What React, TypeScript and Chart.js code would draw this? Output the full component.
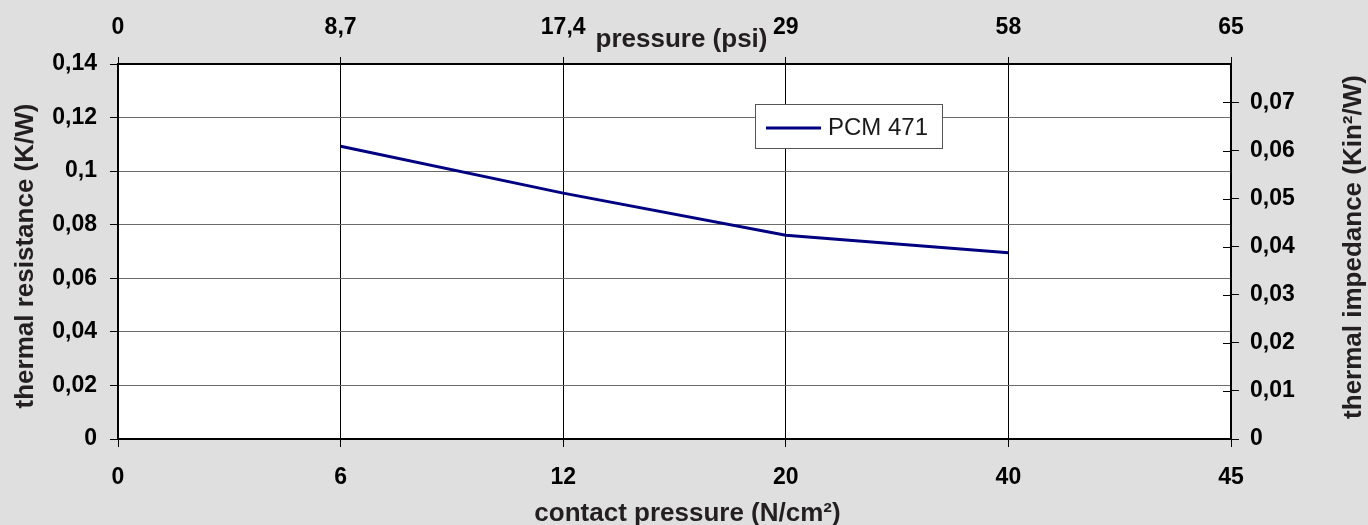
import React, { useEffect, useRef } from "react";
import { Chart, registerables } from "chart.js";

Chart.register(...registerables);

const categories = ["0", "6", "12", "20", "40", "45"];
const psiLabels = ["0", "8,7", "17,4", "29", "58", "65"];
const pcm471 = [null, 0.1093, 0.0918, 0.0761, 0.0695, null];
const seriesName = "PCM 471";
const leftMax = 0.14;
const leftStep = 0.02;
const rightMax = 0.078;
const rightStep = 0.01;

const FONT = "'Liberation Sans', Arial, sans-serif";
const BG = "#dfdfdf";
const TITLE_COLOR = "#231f20";

const fmt = (v: number) => String(Number(v.toFixed(3))).replace(".", ",");

const decorPlugin = {
  id: "decor",
  beforeDraw(chart: any) {
    const { ctx, chartArea } = chart;
    ctx.save();
    ctx.fillStyle = BG;
    ctx.fillRect(0, 0, chart.width, chart.height);
    ctx.fillStyle = "#ffffff";
    ctx.fillRect(chartArea.left, chartArea.top, chartArea.right - chartArea.left, chartArea.bottom - chartArea.top);
    ctx.restore();
  },
  afterDraw(chart: any) {
    const { ctx, chartArea } = chart;
    const y1 = chart.scales.y1;
    ctx.save();
    // inner half of the right-axis cross ticks
    ctx.strokeStyle = "#000";
    ctx.lineWidth = 1;
    y1.ticks.forEach((t: any) => {
      const py = Math.round(y1.getPixelForValue(t.value)) + 0.5;
      ctx.beginPath();
      ctx.moveTo(chartArea.right - 8, py);
      ctx.lineTo(chartArea.right, py);
      ctx.stroke();
    });

    // titles
    ctx.fillStyle = TITLE_COLOR;
    ctx.font = `bold 26px ${FONT}`;
    ctx.textAlign = "center";
    ctx.textBaseline = "alphabetic";
    const cx = (chartArea.left + chartArea.right) / 2;
    ctx.fillText("contact pressure (N/cm²)", cx + 13, 521);
    ctx.fillText("pressure (psi)", cx + 7, 47);

    ctx.save();
    ctx.translate(33, 256);
    ctx.rotate(-Math.PI / 2);
    ctx.fillText("thermal resistance (K/W)", 0, 0);
    ctx.restore();

    ctx.save();
    ctx.translate(1361, 247);
    ctx.rotate(-Math.PI / 2);
    ctx.fillText("thermal impedance (Kin²/W)", 0, 0);
    ctx.restore();

    // legend box
    const ds = chart.data.datasets[0];
    const lx = 755, ly = 104, lw = 187, lh = 44;
    ctx.fillStyle = "#ffffff";
    ctx.fillRect(lx, ly, lw, lh);
    ctx.strokeStyle = "#555555";
    ctx.lineWidth = 1;
    ctx.strokeRect(lx + 0.5, ly + 0.5, lw, lh);
    ctx.strokeStyle = ds.borderColor;
    ctx.lineWidth = 3;
    ctx.beginPath();
    ctx.moveTo(lx + 11, ly + 24);
    ctx.lineTo(lx + 66, ly + 24);
    ctx.stroke();
    ctx.fillStyle = "#1a1a1a";
    ctx.font = `24px ${FONT}`;
    ctx.textAlign = "left";
    ctx.textBaseline = "middle";
    ctx.fillText(ds.label, lx + 73, ly + 24);
    ctx.restore();
  },
};

export default function App() {
  const ref = useRef<HTMLCanvasElement | null>(null);

  useEffect(() => {
    document.body.style.margin = "0";
    if (!ref.current) return;
    const tickFont = { family: FONT, size: 23, weight: "bold" as const };
    const chart = new Chart(ref.current, {
      type: "line",
      data: {
        labels: categories,
        datasets: [
          {
            label: seriesName,
            data: pcm471,
            borderColor: "#000080",
            backgroundColor: "#000080",
            borderWidth: 3,
            pointRadius: 0,
            pointHoverRadius: 0,
            tension: 0,
            spanGaps: false,
            xAxisID: "x",
            yAxisID: "y",
          },
        ],
      },
      options: {
        animation: false,
        responsive: true,
        maintainAspectRatio: false,
        layout: { padding: 0 },
        plugins: {
          legend: { display: false },
          tooltip: { enabled: false },
          title: { display: false },
        },
        events: [],
        scales: {
          x: {
            type: "category",
            position: "bottom",
            offset: false,
            grid: { color: "#000", lineWidth: 1, tickLength: 8, tickColor: "#000" },
            border: { color: "#000", width: 2 },
            ticks: { font: tickFont, color: "#000", padding: 17, maxRotation: 0, autoSkip: false },
            afterFit: (s: any) => { s.height = 86; },
          },
          x2: {
            type: "category",
            position: "top",
            labels: psiLabels,
            offset: false,
            grid: { drawOnChartArea: false, tickLength: 7, tickColor: "#000" },
            border: { color: "#000", width: 2 },
            ticks: { font: tickFont, color: "#000", padding: 16, maxRotation: 0, autoSkip: false },
            afterFit: (s: any) => { s.height = 64; },
          },
          y: {
            type: "linear",
            position: "left",
            min: 0,
            max: leftMax,
            grid: { color: "#6b6b6b", lineWidth: 1, tickLength: 8, tickColor: "#000" },
            border: { color: "#000", width: 2 },
            ticks: { stepSize: leftStep, font: tickFont, color: "#000", padding: 13, callback: (v: any) => fmt(Number(v)) },
            afterFit: (s: any) => { s.width = 118; },
          },
          y1: {
            type: "linear",
            position: "right",
            min: 0,
            max: rightMax,
            grid: { drawOnChartArea: false, tickLength: 8, tickColor: "#000" },
            border: { color: "#000", width: 2 },
            ticks: { stepSize: rightStep, includeBounds: false, font: tickFont, color: "#000", padding: 11, callback: (v: any) => fmt(Number(v)) },
            afterFit: (s: any) => { s.width = 137; },
          },
        },
      },
      plugins: [decorPlugin],
    });
    return () => chart.destroy();
  }, []);

  return (
    <div style={{ width: 1368, height: 525, position: "relative" }}>
      <canvas ref={ref} />
    </div>
  );
}
